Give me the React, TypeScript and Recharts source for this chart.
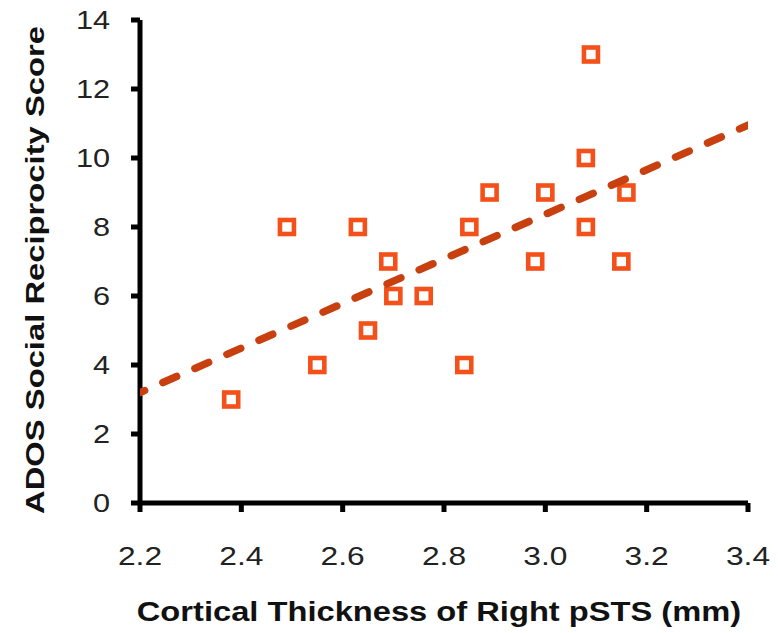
import { ReferenceLine, Scatter, ScatterChart, XAxis, YAxis } from 'recharts'

const thickness = [2.38, 2.49, 2.55, 2.63, 2.65, 2.69, 2.7, 2.76, 2.84, 2.85, 2.89, 3.0, 2.98, 3.08, 3.09, 3.08, 3.16, 3.15]
const socialScore = [3, 8, 4, 8, 5, 7, 6, 6, 4, 8, 9, 9, 7, 10, 13, 8, 9, 7]
const trendX = [2.2, 3.4]
const trendY = [3.2, 10.95]
const xTicks = [2.2, 2.4, 2.6, 2.8, 3.0, 3.2, 3.4]
const yTicks = [0, 2, 4, 6, 8, 10, 12, 14]

const points = thickness.map((x, i) => ({ x, y: socialScore[i] }))
const trend = trendX.map((x, i) => ({ x, y: trendY[i] }))

const font = '"Liberation Sans", Arial, Helvetica, sans-serif'
const TICK_LEN = 9
const TICK_GAP_X = 35
const TICK_GAP_Y = 21

function SquareMarker(props: any) {
  const { cx, cy } = props
  if (cx == null || cy == null) return null
  const s = 14
  return (
    <rect
      x={cx - s / 2}
      y={cy - s / 2}
      width={s}
      height={s}
      fill="#fff"
      stroke="#F4511A"
      strokeWidth={4.6}
    />
  )
}

function XTick(props: any) {
  const { x, y, payload } = props
  const axisY = y - TICK_LEN - TICK_GAP_X
  return (
    <g>
      <line x1={x} x2={x} y1={axisY} y2={axisY + TICK_LEN} stroke="#000" strokeWidth={5} />
      <text
        transform={`translate(${x},${y}) scale(1.22,1)`}
        textAnchor="middle"
        dy="0.71em"
        fill="#222"
        fontSize={26}
        fontFamily={font}
      >
        {Number(payload.value).toFixed(1)}
      </text>
    </g>
  )
}

function YTick(props: any) {
  const { x, y, payload } = props
  const axisX = x + TICK_LEN + TICK_GAP_Y
  return (
    <g>
      <line x1={axisX - TICK_LEN} x2={axisX} y1={y} y2={y} stroke="#000" strokeWidth={5} />
      <text
        transform={`translate(${x},${y}) scale(1.18,1)`}
        textAnchor="end"
        dy="0.355em"
        fill="#222"
        fontSize={26}
        fontFamily={font}
      >
        {payload.value}
      </text>
    </g>
  )
}

export default function App() {
  return (
    <div style={{ position: 'absolute', left: 0, top: 0, background: '#fff' }}>
      <ScatterChart
        width={778}
        height={633}
        margin={{ top: 20, right: 30, bottom: 70, left: 80 }}
      >
        <XAxis
          type="number"
          dataKey="x"
          domain={[2.2, 3.4]}
          ticks={xTicks}
          height={60}
          axisLine={false}
          tickLine={false}
          tickSize={TICK_LEN}
          tickMargin={TICK_GAP_X}
          tick={<XTick />}
          allowDataOverflow
        />
        <YAxis
          type="number"
          dataKey="y"
          domain={[0, 14]}
          ticks={yTicks}
          width={60}
          axisLine={false}
          tickLine={false}
          tickSize={TICK_LEN}
          tickMargin={TICK_GAP_Y}
          tick={<YTick />}
          allowDataOverflow
        />
        <ReferenceLine x={2.2} stroke="#000" strokeWidth={5} />
        <ReferenceLine y={0} stroke="#000" strokeWidth={5} />
        <Scatter
          data={points}
          shape={<SquareMarker />}
          isAnimationActive={false}
        />
        <Scatter
          data={trend}
          line={{
            stroke: '#C8400F',
            strokeWidth: 7.5,
            strokeDasharray: '15 20',
            strokeDashoffset: 10,
            strokeLinecap: 'round',
          }}
          shape={() => null}
          isAnimationActive={false}
        />
      </ScatterChart>
      <div
        style={{
          position: 'absolute',
          left: 439,
          top: 612,
          transform: 'translate(-50%, -50%) scale(1.21,1)',
          fontFamily: font,
          fontWeight: 'bold',
          fontSize: 27,
          color: '#111',
          whiteSpace: 'nowrap',
        }}
      >
        Cortical Thickness of Right pSTS (mm)
      </div>
      <div
        style={{
          position: 'absolute',
          left: 35,
          top: 270,
          transform: 'translate(-50%, -50%) rotate(-90deg) scale(1.26,1)',
          fontFamily: font,
          fontWeight: 'bold',
          fontSize: 26,
          color: '#111',
          whiteSpace: 'nowrap',
        }}
      >
        ADOS Social Reciprocity Score
      </div>
    </div>
  )
}
